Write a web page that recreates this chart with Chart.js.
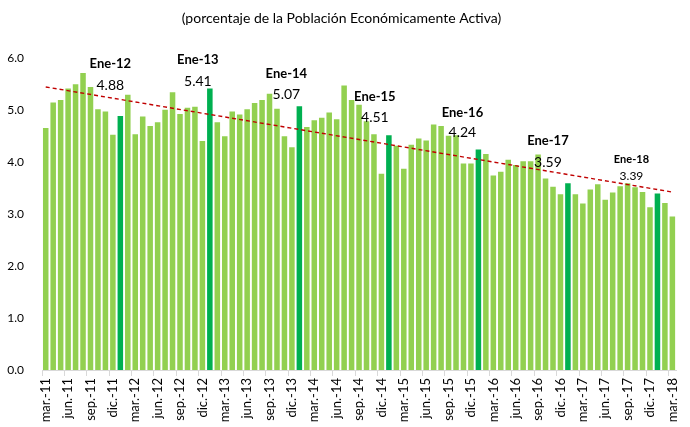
<!DOCTYPE html>
<html>
<head>
<meta charset="utf-8">
<script src="https://cdn.jsdelivr.net/npm/chart.js@4"></script>
<style>
  html, body { margin: 0; padding: 0; background: #fff; }
  #wrap { width: 690px; height: 427px; }
</style>
</head>
<body>
<div id="wrap"><canvas id="desempleo"></canvas></div>
<script>
// meses mar.-11 ... mar.-18
const labels = [
  'mar.-11','abr.-11','may.-11','jun.-11','jul.-11','ago.-11','sep.-11','oct.-11','nov.-11','dic.-11',
  'ene.-12','feb.-12','mar.-12','abr.-12','may.-12','jun.-12','jul.-12','ago.-12','sep.-12','oct.-12','nov.-12','dic.-12',
  'ene.-13','feb.-13','mar.-13','abr.-13','may.-13','jun.-13','jul.-13','ago.-13','sep.-13','oct.-13','nov.-13','dic.-13',
  'ene.-14','feb.-14','mar.-14','abr.-14','may.-14','jun.-14','jul.-14','ago.-14','sep.-14','oct.-14','nov.-14','dic.-14',
  'ene.-15','feb.-15','mar.-15','abr.-15','may.-15','jun.-15','jul.-15','ago.-15','sep.-15','oct.-15','nov.-15','dic.-15',
  'ene.-16','feb.-16','mar.-16','abr.-16','may.-16','jun.-16','jul.-16','ago.-16','sep.-16','oct.-16','nov.-16','dic.-16',
  'ene.-17','feb.-17','mar.-17','abr.-17','may.-17','jun.-17','jul.-17','ago.-17','sep.-17','oct.-17','nov.-17','dic.-17',
  'ene.-18','feb.-18','mar.-18'
];

const tasa = [
  4.65, 5.14, 5.19, 5.41, 5.49, 5.71, 5.44, 5.01, 4.97, 4.52,
  4.88, 5.29, 4.53, 4.87, 4.69, 4.76, 5.00, 5.34, 4.92, 5.04, 5.06, 4.40,
  5.41, 4.76, 4.49, 4.97, 4.91, 5.01, 5.13, 5.19, 5.31, 5.02, 4.49, 4.28,
  5.07, 4.67, 4.80, 4.85, 4.95, 4.82, 5.47, 5.19, 5.10, 4.78, 4.53, 3.77,
  4.51, 4.31, 3.87, 4.33, 4.45, 4.41, 4.72, 4.69, 4.50, 4.51, 3.97, 3.97,
  4.24, 4.15, 3.74, 3.81, 4.04, 3.94, 4.01, 4.01, 4.14, 3.68, 3.52, 3.38,
  3.59, 3.38, 3.20, 3.47, 3.57, 3.27, 3.41, 3.53, 3.59, 3.51, 3.42, 3.13,
  3.39, 3.21, 2.95
];

// linea de tendencia (extremos)
const tendencia = [
  { x: 'mar.-11', y: 5.44 },
  { x: 'mar.-18', y: 3.42 }
];

const eneCats = ['ene.-12','ene.-13','ene.-14','ene.-15','ene.-16','ene.-17','ene.-18'];
const eneTags = ['Ene-12','Ene-13','Ene-14','Ene-15','Ene-16','Ene-17','Ene-18'];

// posicion de las etiquetas respecto al tope de la barra: [dx, dy nombre, dy valor]
const eneOffsets = [
  [-10, -52, -31], [-12, -29, -7], [-13, -32, -12], [-14, -39, -18],
  [-16, -37, -17], [-20, -42, -21], [-26, -34, -17]
];

const FONT = 'Lato, "Open Sans", sans-serif';
const LIGHT = '#92D050';
const DARK = '#00B050';

const eneLabels = {
  id: 'eneLabels',
  afterDatasetsDraw(chart) {
    const { ctx, scales: { x, y } } = chart;
    ctx.save();
    ctx.textAlign = 'center';
    ctx.textBaseline = 'middle';
    ctx.fillStyle = '#000';
    eneCats.forEach((cat, k) => {
      const i = labels.indexOf(cat);
      const [dx, dyName, dyVal] = eneOffsets[k];
      const px = x.getPixelForValue(i) + dx;
      const top = y.getPixelForValue(tasa[i]);
      const small = k === eneCats.length - 1;
      ctx.font = `bold ${small ? 11 : 13}px ${FONT}`;
      ctx.fillText(eneTags[k], px, top + dyName);
      ctx.font = `${small ? 12 : 14}px ${FONT}`;
      ctx.fillText(tasa[i].toFixed(2), px, top + dyVal);
    });
    ctx.restore();
  }
};

new Chart(document.getElementById('desempleo'), {
  data: {
    labels,
    datasets: [
      {
        type: 'line',
        data: tendencia,
        borderColor: '#C00000',
        borderWidth: 1.4,
        borderDash: [4, 3],
        pointRadius: 0,
        fill: false,
        order: 0
      },
      {
        type: 'bar',
        data: tasa,
        backgroundColor: c => labels[c.index].startsWith('ene') ? DARK : LIGHT,
        barPercentage: 0.74,
        categoryPercentage: 1,
        order: 1
      }
    ]
  },
  options: {
    responsive: true,
    maintainAspectRatio: false,
    animation: false,
    layout: { padding: { left: 0, right: 7, top: 0, bottom: 0 } },
    plugins: {
      legend: { display: false },
      tooltip: { enabled: false },
      title: {
        display: true,
        text: '(porcentaje de la Población Económicamente Activa)',
        color: '#000',
        font: { family: FONT, size: 14, weight: 'normal' },
        padding: { top: 10, bottom: 31 }
      }
    },
    scales: {
      x: {
        afterFit: s => { s.height = 57; },
        grid: {
          offset: true,
          drawOnChartArea: false,
          tickLength: 6,
          color: c => c.index % 3 === 0 ? '#d9d9d9' : 'rgba(0,0,0,0)'
        },
        border: { color: '#d9d9d9' },
        ticks: {
          autoSkip: false,
          maxRotation: 90,
          minRotation: 90,
          padding: 2,
          color: '#000',
          font: { family: FONT, size: 13 },
          callback: (v, i) => i % 3 === 0 ? labels[i] : ''
        }
      },
      y: {
        min: 0,
        max: 6,
        afterFit: s => { s.width = 42; },
        grid: { display: false },
        border: { display: false },
        ticks: {
          stepSize: 1,
          padding: 10,
          color: '#000',
          font: { family: FONT, size: 12 },
          callback: v => v.toFixed(1)
        }
      }
    }
  },
  plugins: [eneLabels]
});
</script>
</body>
</html>
